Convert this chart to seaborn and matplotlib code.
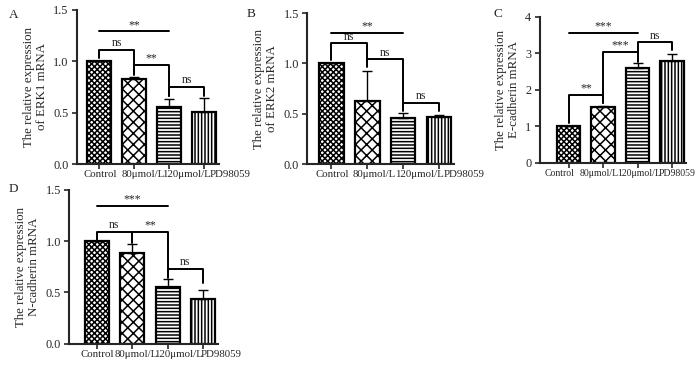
import numpy as np
import pandas as pd
import matplotlib
matplotlib.use("Agg")
import matplotlib.pyplot as plt
import seaborn as sns

groups = ["Control", "80μmol/L", "120μmol/L", "PD98059"]

# means and SD
erk1 = [1.00, 0.83, 0.56, 0.51]
erk1_sd = [0.005, 0.02, 0.07, 0.13]
erk2 = [1.00, 0.63, 0.455, 0.47]
erk2_sd = [0.005, 0.30, 0.05, 0.02]
ecad = [1.00, 1.52, 2.59, 2.79]
ecad_sd = [0.01, 0.05, 0.14, 0.18]
ncad = [1.00, 0.88, 0.55, 0.44]
ncad_sd = [0.005, 0.09, 0.08, 0.08]

# significance brackets: (bar i, bar j, height, left leg end, right leg end, label)
erk1_sig = [(0, 1, 1.11, 1.03, 0.90, "ns"), (1, 2, 0.96, 0.87, 0.66, "**"),
            (2, 3, 0.75, 0.66, 0.66, "ns")]
erk1_line = (0, 2, 1.29, "**")
erk2_sig = [(0, 1, 1.20, 1.03, 1.03, "ns"), (1, 2, 1.04, 0.97, 0.55, "ns"),
            (2, 3, 0.61, 0.53, 0.53, "ns")]
erk2_line = (0, 2, 1.30, "**")
ecad_sig = [(0, 1, 1.86, 1.10, 1.64, "**"), (1, 2, 3.05, 1.64, 2.77, "***"),
            (2, 3, 3.30, 3.00, 3.10, "ns")]
ecad_line = (0, 2, 3.55, "***")
ncad_sig = [(0, 1, 1.09, 1.01, 0.98, "ns"), (1, 2, 1.09, 1.02, 0.66, "**"),
            (2, 3, 0.73, 0.64, 0.59, "ns")]
ncad_line = (0, 2, 1.34, "***")

hatches = ["xxxxxx", "xxx", "-----", "|||||"]

sns.set_style("ticks")
plt.rcParams["font.family"] = ["Liberation Serif", "DejaVu Serif"]
plt.rcParams["hatch.linewidth"] = 1.1
plt.rcParams["hatch.color"] = "black"

fig = plt.figure(figsize=(7, 3.67), dpi=100)

# x label shifts in pixels (the original squeezes the labels to the right)
panels = [
    ("A", erk1, erk1_sd, erk1_sig, erk1_line, "The relative expression\nof ERK1 mRNA",
     [0.110, 0.553, 0.203, 0.420], (-0.63, 3.43), 1.5, [0, 0.5, 1.0, 1.5], "{:.1f}",
     (0.013, 0.958), [1, 9, 17, 26], 7.8),
    ("B", erk2, erk2_sd, erk2_sig, erk2_line, "The relative expression\nof ERK2 mRNA",
     [0.439, 0.553, 0.209, 0.411], (-0.67, 3.40), 1.5, [0, 0.5, 1.0, 1.5], "{:.1f}",
     (0.353, 0.962), [1, 7, 16, 25], 7.8),
    ("C", ecad, ecad_sd, ecad_sig, ecad_line, "The relative expression\nE-cadherin mRNA",
     [0.771, 0.556, 0.209, 0.398], (-0.84, 3.40), 4, [0, 1, 2, 3, 4], "{:.0f}",
     (0.705, 0.962), [-9, -4, 1, 5], 7.0),
    ("D", ncad, ncad_sd, ncad_sig, ncad_line, "The relative expression\nN-cadherin mRNA",
     [0.099, 0.063, 0.213, 0.420], (-0.77, 3.43), 1.5, [0, 0.5, 1.0, 1.5], "{:.1f}",
     (0.013, 0.486), [1, 4, 11, 18], 7.8),
]

for (letter, vals, sd, sig, line, ylabel, rect, xlim, ytop, yticks, fmt, lpos,
     shifts, xfs) in panels:
    ax = fig.add_axes(rect)
    df = pd.DataFrame({"group": groups, "value": vals})
    sns.barplot(data=df, x="group", y="value", ax=ax, color="white",
                edgecolor="black", linewidth=1.6, width=0.68, errorbar=None)
    for bar, h in zip(ax.patches, hatches):
        bar.set_hatch(h)
    x = np.arange(len(groups))
    ax.errorbar(x, vals, yerr=[np.zeros(len(sd)), sd], fmt="none",
                ecolor="black", elinewidth=1.0, capsize=3.5, capthick=1.0, zorder=1)
    for i, j, y, yl, yr, lab in sig:
        ax.plot([i, i, j, j], [yl, y, y, yr], color="black", lw=1.4, clip_on=False)
        ax.text((i + j) / 2, y + ytop * 0.004, lab, ha="center", va="bottom", fontsize=8.5)
    i, j, y, lab = line
    ax.plot([i, j], [y, y], color="black", lw=1.4, clip_on=False)
    ax.text((i + j) / 2, y + ytop * 0.004, lab, ha="center", va="bottom", fontsize=8.5)

    ax.set_xlim(*xlim)
    ax.set_ylim(0, ytop)
    ax.set_yticks(yticks)
    ax.set_yticklabels([fmt.format(t) for t in yticks])
    ax.set_xticks(x)
    ax.set_xticklabels([])
    for k, g in enumerate(groups):
        ax.annotate(g, xy=(k, 0), xycoords=ax.get_xaxis_transform(),
                    xytext=(shifts[k] * 0.72, -4.5), textcoords="offset points",
                    ha="center", va="top", fontsize=xfs, annotation_clip=False)
    ax.set_xlabel("")
    ax.set_ylabel(ylabel, fontsize=9.3, labelpad=4, linespacing=1.1)
    ax.tick_params(axis="x", length=3.5, width=1.2)
    ax.tick_params(axis="y", labelsize=8.8, length=3.5, width=1.2, pad=2.5)
    for s in ["left", "bottom"]:
        ax.spines[s].set_linewidth(1.5)
    sns.despine(ax=ax)
    fig.text(lpos[0], lpos[1], letter, fontsize=9.5, ha="left", va="center")

fig.savefig("out.png", dpi=100)
